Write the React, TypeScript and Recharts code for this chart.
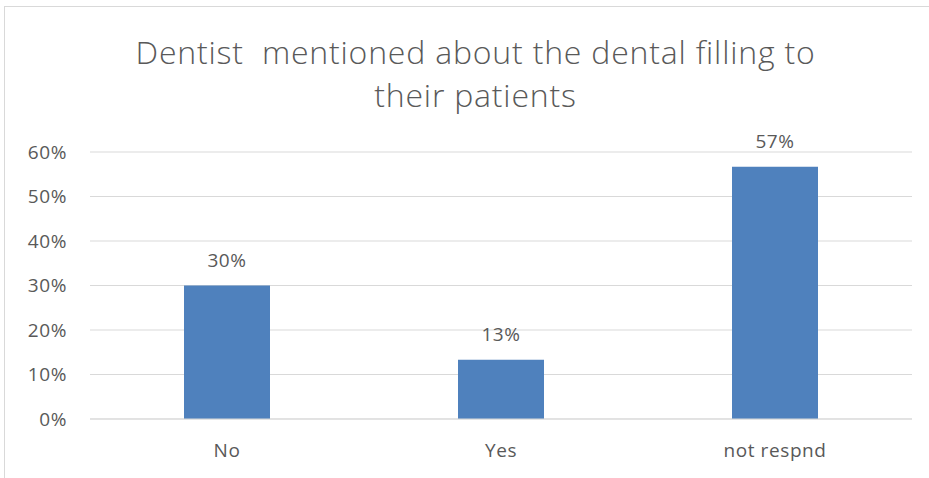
import { BarChart, Bar, XAxis, YAxis, CartesianGrid, LabelList } from 'recharts';

const categories = ['No', 'Yes', 'not respnd'];
const shares = [0.3, 0.133, 0.567];
const yTicks = [0, 0.1, 0.2, 0.3, 0.4, 0.5, 0.6];
const titleLines = ['Dentist  mentioned about the dental filling to', 'their patients'];

const data = categories.map((name, i) => ({ name, value: shares[i] }));

const pct = (v: number) => `${Math.round(v * 100)}%`;
const font = '"Open Sans", Lato, sans-serif';
const textColor = '#595959';
const tickStyle = { fill: textColor, fontSize: 19, fontFamily: font, letterSpacing: 0.6 };

export default function App() {
  return (
    <div style={{ position: 'absolute', left: 0, top: 0, width: 929, height: 478, background: '#fff', overflow: 'hidden', fontFamily: font }}>
      {/* chart frame */}
      <div style={{ position: 'absolute', left: 4, top: 6, width: 960, height: 500, border: '1px solid #d9d9d9' }} />
      <div style={{ position: 'absolute', left: 11, top: 30, width: 929, textAlign: 'center', color: textColor, fontSize: 32, fontWeight: 300, letterSpacing: 0.8, lineHeight: '43px', whiteSpace: 'pre' }}>
        {titleLines.map((t) => (
          <div key={t}>{t}</div>
        ))}
      </div>
      <div style={{ position: 'absolute', left: 0, top: 0 }}>
        <BarChart width={929} height={478} data={data} margin={{ top: 152, right: 17, bottom: 0, left: 0 }}>
          <CartesianGrid vertical={false} stroke="#d9d9d9" />
          <XAxis
            dataKey="name"
            height={59}
            tickLine={false}
            axisLine={{ stroke: '#d9d9d9' }}
            tickSize={0}
            tickMargin={25}
            tick={tickStyle}
          />
          <YAxis
            width={90}
            domain={[0, 0.6]}
            ticks={yTicks}
            tickFormatter={pct}
            axisLine={false}
            tickLine={false}
            tickSize={0}
            tickMargin={23}
            tick={tickStyle}
          />
          <Bar dataKey="value" fill="#4f81bd" barSize={86} isAnimationActive={false}>
            <LabelList dataKey="value" position="top" offset={19} formatter={(v: any) => pct(Number(v))} {...tickStyle} />
          </Bar>
        </BarChart>
      </div>
    </div>
  );
}
